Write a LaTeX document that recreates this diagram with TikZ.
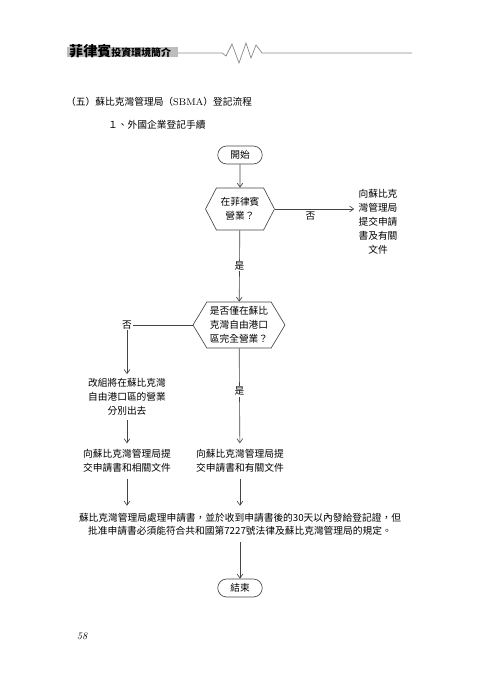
\documentclass[tikz,border=0pt]{standalone}
\usepackage{fontspec}
\newfontfamily\cjk{Noto Sans CJK TC}
\usetikzlibrary{positioning,arrows.meta,shapes.symbols}
\definecolor{flowln}{HTML}{444444}
\definecolor{barbg}{HTML}{BDBDBD}
\definecolor{hdrln}{HTML}{8A8A8A}

\begin{document}
\begin{tikzpicture}[x=0.03cm,y=-0.03cm,
  font=\cjk\fontsize{8.3}{12}\selectfont,
  >={Straight Barb[length=3.5pt,width=5pt]},
  flow/.style={draw=flowln,line width=0.55pt},
  term/.style={flow,rectangle,rounded corners=7.7pt,minimum width=38pt,minimum height=15.4pt,inner sep=1pt},
  ask/.style={flow,signal,signal to=west and east,inner sep=0pt,align=center},
  txt/.style={align=center,inner sep=3.5pt},
  tag/.style={fill=white,inner sep=1pt}]
\useasboundingbox (0,0) rectangle (480,679);

% page header
\fill[barbg] (67,47) rectangle (178,57);
\node[anchor=base west,inner sep=0pt] (hdr) at (69,57)
  {\bfseries\fontsize{12}{12}\selectfont 菲律賓{\fontsize{8.5}{9}\selectfont 投資環境簡介}};
\draw[hdrln,line width=0.6pt] (178,53) -- (222,53) -- (226,56) -- (232,44) -- (239,63)
  -- (246,43) -- (251,58) -- (256,45) -- (262,53) -- (412,53);

% headings
\node[anchor=west,inner sep=0pt] (ttl) at (66,102)
  {（五）蘇比克灣管理局（{\rmfamily SBMA}）登記流程};
\node[anchor=west,inner sep=0pt] (sub) at (108,125) {１、外國企業登記手續};

% flow
\node[term] (start) at (240,155) {開始};
\node[ask,minimum width=58.9pt,minimum height=35.9pt,signal pointer angle=125] (q1) at (240,209)
  {在菲律賓\\營業？};
\node[txt] (side) at (378,222) {向蘇比克\\灣管理局\\提交申請\\書及有關\\文件};
\node[ask,minimum width=78.5pt,minimum height=39.3pt,signal pointer angle=118] (q2) at (239,325)
  {是否僅在蘇比\\克灣自由港口\\區完全營業？};
\coordinate (lc) at (127,325);
\node[txt] (split) at (127,397) {改組將在蘇比克灣\\自由港口區的營業\\分別出去};
\node[txt,inner sep=5pt] (applyA) at (127,461) {向蘇比克灣管理局提\\交申請書和相關文件};
\node[txt,inner sep=5pt] (applyB) at (240,461) {向蘇比克灣管理局提\\交申請書和有關文件};
\node[txt,inner sep=6pt,font=\cjk\fontsize{8.3}{11}\selectfont] (note) at (240,524)
  {蘇比克灣管理局處理申請書，並於收到申請書後的30天以內發給登記證，但\\
   批准申請書必須能符合共和國第7227號法律及蘇比克灣管理局的規定。};
\node[term] (stop) at (240,588) {結束};

\draw[flow,->] (start) -- (q1);
\draw[flow,->] (q1.east) -- node[below=2pt,inner sep=0pt,pos=0.45] {否} (q1.east -| side.west);
\draw[flow,->] (q1) -- node[tag] {是} (q2);
\draw[flow] (q2.west) -- (lc);
\draw[flow,->] (lc) -- (split);
\node[tag] (no2) at (lc) {否};
\draw[flow,->] (split) -- (applyA);
\draw[flow,->] (q2) -- node[tag,pos=0.45] {是} (applyB);
\draw[flow,->] (applyA.south) -- (applyA.south |- note.north);
\draw[flow,->] (applyB) -- (note);
\draw[flow,->] (note) -- (stop);

% folio
\node[font=\rmfamily\itshape\fontsize{8.5}{9}\selectfont] (folio) at (82,636) {58};
\end{tikzpicture}
\end{document}
